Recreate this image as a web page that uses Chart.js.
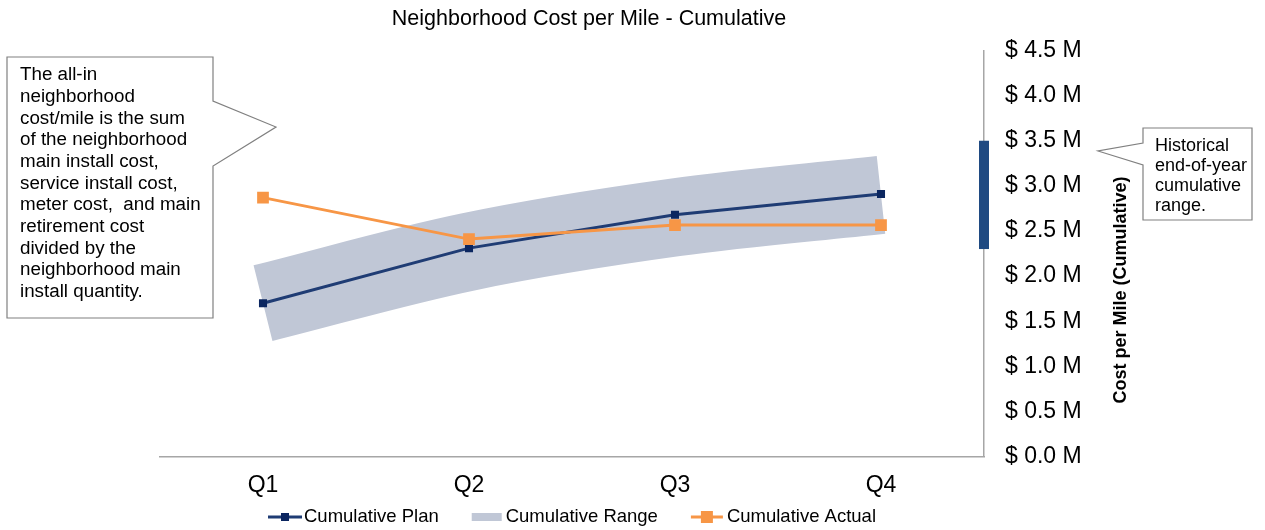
<!DOCTYPE html>
<html>
<head>
<meta charset="utf-8">
<script src="https://cdn.jsdelivr.net/npm/chart.js@4.4.1/dist/chart.umd.min.js"></script>
<style>
  html, body { margin: 0; padding: 0; background: #ffffff; }
  #wrap { width: 1265px; height: 530px; position: relative; }
  canvas { display: block; }
</style>
</head>
<body>
<div id="wrap"><canvas id="c" width="1265" height="530"></canvas></div>
<script>
// ---------- data ----------
const categories = ['Q1', 'Q2', 'Q3', 'Q4'];
const planValues = [1.70, 2.31, 2.68, 2.91];
const rangeValues = [1.70, 2.27, 2.65, 2.90];
const actualValues = [2.87, 2.41, 2.565, 2.565];
const historicalRange = [2.30, 3.50];
const yTickValues = [0, 0.5, 1.0, 1.5, 2.0, 2.5, 3.0, 3.5, 4.0, 4.5];
const yTickLabels = ['$ 0.0 M', '$ 0.5 M', '$ 1.0 M', '$ 1.5 M', '$ 2.0 M',
                     '$ 2.5 M', '$ 3.0 M', '$ 3.5 M', '$ 4.0 M', '$ 4.5 M'];
const seriesLabels = ['Cumulative Plan', 'Cumulative Range', 'Cumulative Actual'];
const chartTitle = 'Neighborhood Cost per Mile - Cumulative';
const yAxisTitle = 'Cost per Mile (Cumulative)';
const leftNoteLines = ['The all-in', 'neighborhood', 'cost/mile is the sum', 'of the neighborhood',
  'main install cost,', 'service install cost,', 'meter cost,  and main', 'retirement cost',
  'divided by the', 'neighborhood main', 'install quantity.'];
const rightNoteLines = ['Historical', 'end-of-year', 'cumulative', 'range.'];

// ---------- styles ----------
const FONT = "'Liberation Sans', Arial, Helvetica, sans-serif";
const PLAN_LINE = '#1f3c74';
const PLAN_MARK = '#0b2660';
const RANGE_COL = '#c0c7d6';
const ACTUAL_COL = '#f79646';
const HIST_COL = '#1f4a82';
const AXIS_COL = '#a6a6a6';
const NOTE_BORDER = '#808080';

Chart.defaults.font.family = FONT;
Chart.defaults.color = '#000000';

function drawCallout(ctx, pts, lines, tx, ty0, lh, fontSize) {
  ctx.save();
  ctx.beginPath();
  ctx.moveTo(pts[0][0], pts[0][1]);
  for (let i = 1; i < pts.length; i++) ctx.lineTo(pts[i][0], pts[i][1]);
  ctx.closePath();
  ctx.fillStyle = '#ffffff';
  ctx.fill();
  ctx.strokeStyle = NOTE_BORDER;
  ctx.lineWidth = 1.2;
  ctx.stroke();
  ctx.fillStyle = '#000000';
  ctx.font = fontSize + 'px ' + FONT;
  ctx.textAlign = 'left';
  ctx.textBaseline = 'middle';
  lines.forEach((t, i) => ctx.fillText(t, tx, ty0 + i * lh));
  ctx.restore();
}

const extras = {
  id: 'extras',
  afterDraw(chart) {
    const ctx = chart.ctx;
    const ca = chart.chartArea;
    const ys = chart.scales.y;

    // chart title
    ctx.save();
    ctx.font = '21.5px ' + FONT;
    ctx.fillStyle = '#000000';
    ctx.textAlign = 'center';
    ctx.textBaseline = 'middle';
    ctx.fillText(chartTitle, 589, 19.5);
    ctx.restore();

    // historical end-of-year range bar on the value axis
    const yTop = ys.getPixelForValue(historicalRange[1]);
    const yBot = ys.getPixelForValue(historicalRange[0]);
    ctx.save();
    ctx.fillStyle = HIST_COL;
    ctx.fillRect(ca.right - 5, yTop, 10, yBot - yTop);
    ctx.restore();

    // rotated axis title (reads bottom to top)
    ctx.save();
    ctx.translate(ca.right + 137, 290);
    ctx.rotate(-Math.PI / 2);
    ctx.font = 'bold 18px ' + FONT;
    ctx.fillStyle = '#000000';
    ctx.textAlign = 'center';
    ctx.textBaseline = 'middle';
    ctx.fillText(yAxisTitle, 0, 0);
    ctx.restore();

    // callouts
    drawCallout(ctx,
      [[7, 57], [213, 57], [213, 101], [276, 127], [213, 166], [213, 318], [7, 318]],
      leftNoteLines, 20, 75, 21.67, 18.8);
    drawCallout(ctx,
      [[1143, 128], [1252, 128], [1252, 220], [1143, 220], [1143, 165], [1098, 151], [1143, 143]],
      rightNoteLines, 1155, 146, 20, 18);

    // legend
    const ds = chart.data.datasets;
    const iconW = [34, 30, 32];
    const gap = [2, 4, 4];
    const spacing = 33;
    ctx.save();
    ctx.font = '18.5px ' + FONT;
    const tw = ds.map(d => ctx.measureText(d.label).width);
    let total = spacing * (ds.length - 1);
    ds.forEach((d, i) => { total += iconW[i] + gap[i] + tw[i]; });
    let x = (ca.left + ca.right) / 2 - total / 2;
    const ly = chart.height - 13;
    ds.forEach((d, i) => {
      if (i === 1) {
        ctx.fillStyle = d.borderColor;
        ctx.fillRect(x, ly - 4, iconW[i], 8);
      } else {
        ctx.strokeStyle = d.borderColor;
        ctx.lineWidth = 3;
        ctx.beginPath();
        ctx.moveTo(x, ly);
        ctx.lineTo(x + iconW[i], ly);
        ctx.stroke();
        const s = i === 0 ? 8 : 12;
        ctx.fillStyle = d.pointBackgroundColor;
        ctx.fillRect(x + iconW[i] / 2 - s / 2, ly - s / 2, s, s);
      }
      x += iconW[i] + gap[i];
      ctx.fillStyle = '#000000';
      ctx.textAlign = 'left';
      ctx.textBaseline = 'middle';
      ctx.fillText(d.label, x, ly);
      x += tw[i] + spacing;
    });
    ctx.restore();
  }
};

new Chart(document.getElementById('c'), {
  type: 'line',
  data: {
    labels: categories,
    datasets: [
      {
        label: seriesLabels[0],
        data: planValues,
        borderColor: PLAN_LINE,
        borderWidth: 3,
        pointStyle: 'rect',
        pointRadius: 5.7,
        pointBackgroundColor: PLAN_MARK,
        pointBorderColor: PLAN_MARK,
        pointBorderWidth: 0,
        tension: 0,
        fill: false,
        order: 1
      },
      {
        label: seriesLabels[1],
        data: rangeValues,
        borderColor: RANGE_COL,
        pointBackgroundColor: RANGE_COL,
        borderWidth: 78,
        borderCapStyle: 'butt',
        pointRadius: 0,
        tension: 0.35,
        fill: false,
        order: 2
      },
      {
        label: seriesLabels[2],
        data: actualValues,
        borderColor: ACTUAL_COL,
        borderWidth: 3,
        pointStyle: 'rect',
        pointRadius: 8.3,
        pointBackgroundColor: ACTUAL_COL,
        pointBorderColor: ACTUAL_COL,
        pointBorderWidth: 0,
        tension: 0,
        fill: false,
        order: 0
      }
    ]
  },
  options: {
    responsive: false,
    animation: false,
    devicePixelRatio: 1,
    layout: { padding: { left: 160, right: 0, top: 50.5, bottom: 32 } },
    plugins: {
      legend: { display: false },
      tooltip: { enabled: false },
      title: { display: false }
    },
    scales: {
      x: {
        type: 'category',
        offset: true,
        grid: { display: false, drawTicks: false },
        border: { display: true, color: AXIS_COL, width: 1.5 },
        afterFit: (s) => { s.height = 41.4; },
        ticks: { font: { size: 23, lineHeight: 1.2 }, color: '#000000', padding: 15, maxRotation: 0 }
      },
      y: {
        position: 'right',
        min: 0,
        max: 4.5,
        grid: { display: false, drawTicks: false },
        border: { display: true, color: AXIS_COL, width: 1.5 },
        afterBuildTicks: (s) => { s.ticks = yTickValues.map(v => ({ value: v })); },
        afterFit: (s) => { s.width = 281; },
        ticks: {
          autoSkip: false,
          font: { size: 23, lineHeight: 1.2 },
          color: '#000000',
          padding: 21,
          callback: (v) => {
            const i = yTickValues.findIndex(t => Math.abs(t - v) < 1e-6);
            return i >= 0 ? yTickLabels[i] : '';
          }
        }
      }
    }
  },
  plugins: [extras]
});
</script>
</body>
</html>
